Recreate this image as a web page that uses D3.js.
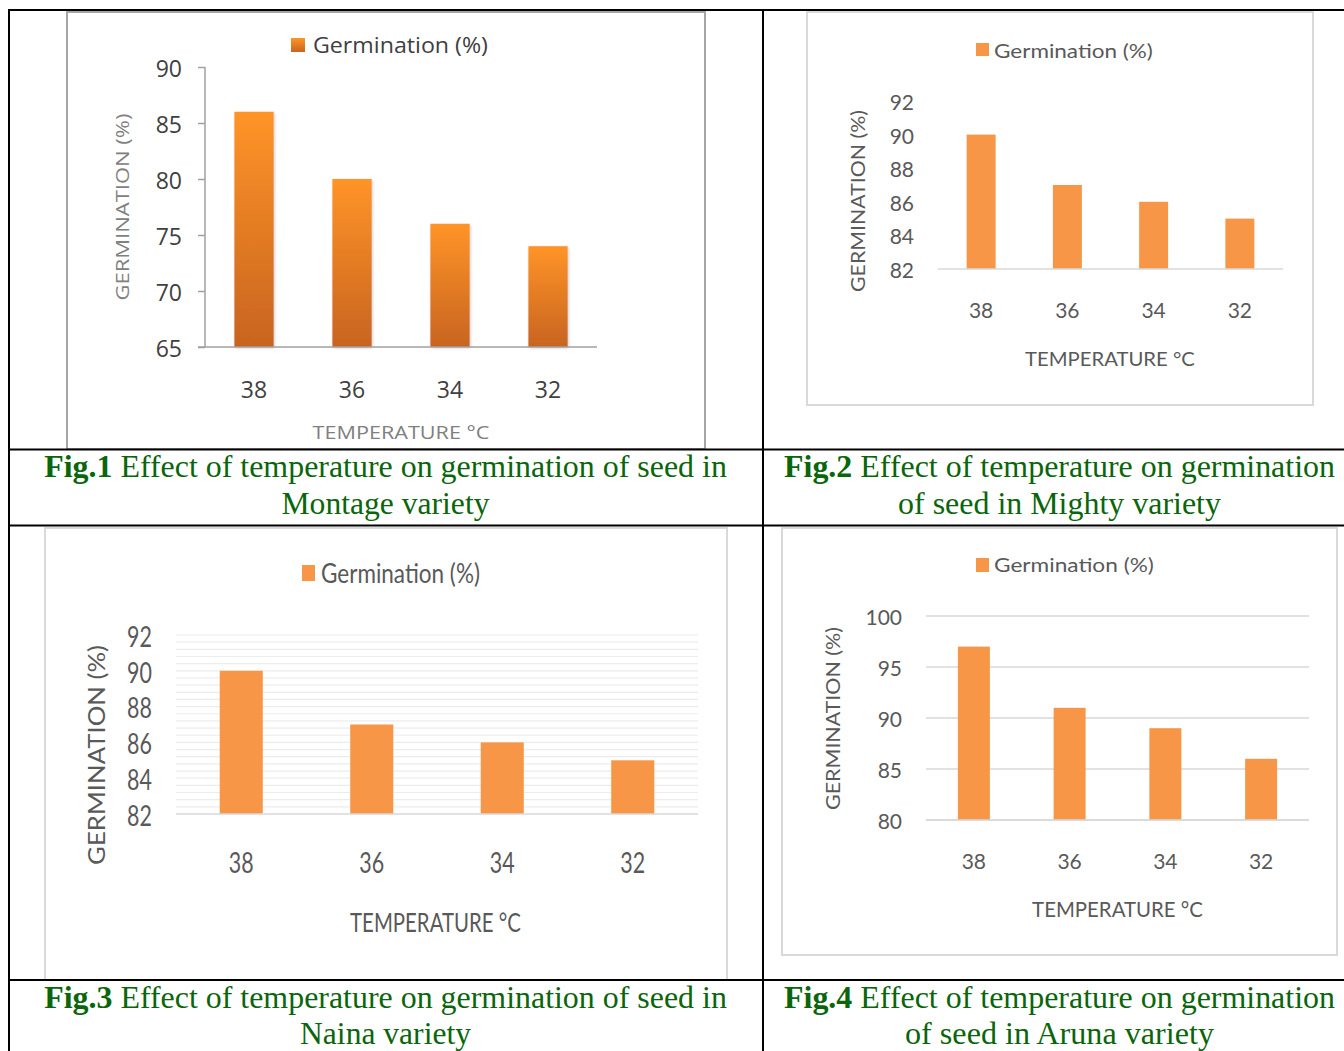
<!DOCTYPE html>
<html>
<head>
<meta charset="utf-8">
<script src="https://cdn.jsdelivr.net/npm/d3@7"></script>
<style>
  body { margin: 0; background: #fff; }
  svg { display: block; }
</style>
</head>
<body>
<svg id="fig" width="1344" height="1051"></svg>
<script>
// Temperature categories (°C) shared by all four figures
const temperatures = ["38", "36", "34", "32"];

// Germination (%) per variety
const montage = [86, 80, 76, 74];
const mighty  = [90, 87, 86, 85];
const naina   = [90, 87, 86, 85];
const aruna   = [97, 91, 89, 86];

// Y-axis tick labels per figure
const montageTicks = [65, 70, 75, 80, 85, 90];
const mightyTicks  = [82, 84, 86, 88, 90, 92];
const nainaTicks   = [82, 84, 86, 88, 90, 92];
const arunaTicks   = [80, 85, 90, 95, 100];
const nainaMinorStep = 0.4;

const seriesName = "Germination (%)";
const xTitleText = "TEMPERATURE °C";
const yTitleText = "GERMINATION (%)";

const figLabels = ["Fig.1", "Fig.2", "Fig.3", "Fig.4"];
const captionLine1 = [
  " Effect of temperature on germination of seed in",
  " Effect of temperature on germination",
  " Effect of temperature on germination of seed in",
  " Effect of temperature on germination"
];
const captionLine2 = [
  "Montage variety",
  "of seed in Mighty variety",
  "Naina variety",
  "of seed in Aruna variety"
];

const svg = d3.select("#fig");

// gradient + shadow used by the first figure's bars
const defs = svg.append("defs");
const grad = defs.append("linearGradient").attr("id", "barGrad")
  .attr("x1", 0).attr("y1", 0).attr("x2", 0).attr("y2", 1);
grad.append("stop").attr("offset", "0%").attr("stop-color", "#ff9428");
grad.append("stop").attr("offset", "100%").attr("stop-color", "#c8641f");
const shadow = defs.append("filter").attr("id", "barShadow")
  .attr("x", "-20%").attr("y", "-5%").attr("width", "140%").attr("height", "110%");
shadow.append("feDropShadow").attr("dx", 1).attr("dy", 1).attr("stdDeviation", 1.5)
  .attr("flood-color", "#888").attr("flood-opacity", 0.45);

// text that is squeezed / stretched horizontally to a given width
function fittedText(g, str, x, y, opts) {
  const t = g.append("text")
    .attr("font-family", opts.family)
    .attr("font-size", opts.size)
    .attr("font-weight", opts.weight || "normal")
    .attr("fill", opts.color)
    .attr("text-anchor", opts.anchor || "middle")
    .attr("dominant-baseline", opts.baseline || "central")
    .text(str);
  const w = t.node().getComputedTextLength();
  const k = opts.width ? opts.width / w : 1;
  t.attr("transform", `translate(${x},${y})${opts.rotate ? " rotate(-90)" : ""} scale(${k},1)`);
  return t;
}

function panel(cfg) {
  const g = svg.append("g");
  const P = cfg.plot;

  // chart area border
  g.append("rect")
    .attr("x", cfg.box[0]).attr("y", cfg.box[1])
    .attr("width", cfg.box[2] - cfg.box[0]).attr("height", cfg.box[3] - cfg.box[1])
    .attr("fill", "#fff").attr("stroke", cfg.boxStroke).attr("stroke-width", 2);

  const x = d3.scaleBand().domain(temperatures).range([P.left, P.right])
    .paddingInner(cfg.pad).paddingOuter(cfg.pad / 2);
  const y = d3.scaleLinear().domain(d3.extent(cfg.ticks)).range([P.bottom, P.top]);

  // gridlines
  if (cfg.minorStep) {
    const [lo, hi] = d3.extent(cfg.ticks);
    const n = Math.round((hi - lo) / cfg.minorStep);
    g.append("g").selectAll("line").data(d3.range(1, n + 1).map(i => lo + i * cfg.minorStep))
      .join("line")
      .attr("x1", P.left).attr("x2", P.right)
      .attr("y1", d => y(d)).attr("y2", d => y(d))
      .attr("stroke", "#ececec").attr("stroke-width", 1.2);
  }
  if (cfg.grid) {
    g.append("g").selectAll("line").data(cfg.ticks).join("line")
      .attr("x1", P.left).attr("x2", P.right)
      .attr("y1", d => y(d)).attr("y2", d => y(d))
      .attr("stroke", "#d9d9d9").attr("stroke-width", 1.5);
  }

  // bars
  g.append("g").selectAll("rect").data(cfg.values).join("rect")
    .attr("x", (d, i) => x(temperatures[i]))
    .attr("width", x.bandwidth())
    .attr("y", d => y(d))
    .attr("height", d => y(d3.min(cfg.ticks)) - y(d))
    .attr("fill", cfg.gradient ? "url(#barGrad)" : "#f79646")
    .attr("filter", cfg.gradient ? "url(#barShadow)" : null);

  // baseline
  g.append("line")
    .attr("x1", cfg.axisLine ? P.left - cfg.tickLen : P.left).attr("x2", P.right)
    .attr("y1", P.bottom).attr("y2", P.bottom)
    .attr("stroke", cfg.axisColor).attr("stroke-width", 1.5);

  // y axis
  const yAxis = d3.axisLeft(y).tickValues(cfg.ticks)
    .tickSize(cfg.axisLine ? cfg.tickLen : 0).tickPadding(0);
  const yg = g.append("g").attr("transform", `translate(${P.left},0)`).call(yAxis);
  if (cfg.axisLine) {
    yg.select(".domain").attr("stroke", cfg.axisColor).attr("stroke-width", 1.5)
      .attr("d", `M0,${P.top}V${P.bottom}`);
    yg.selectAll(".tick line").attr("stroke", cfg.axisColor).attr("stroke-width", 1.5);
  } else {
    yg.select(".domain").remove();
    yg.selectAll(".tick line").remove();
  }
  yg.selectAll(".tick text")
    .attr("x", null).attr("dy", null)
    .attr("dominant-baseline", "central")
    .attr("font-family", cfg.tickFamily).attr("font-size", cfg.tickSize)
    .attr("fill", cfg.tickColor)
    .attr("transform", `translate(${cfg.yLabelRight - P.left},0) scale(${cfg.tickScale},1)`);

  // x axis
  const xAxis = d3.axisBottom(x).tickSize(0).tickPadding(0);
  const xg = g.append("g").attr("transform", `translate(0,${P.bottom})`).call(xAxis);
  xg.select(".domain").remove();
  xg.selectAll(".tick text")
    .attr("y", null).attr("dy", null)
    .attr("dominant-baseline", "central")
    .attr("font-family", cfg.tickFamily).attr("font-size", cfg.tickSize)
    .attr("fill", cfg.tickColor)
    .attr("transform", `translate(0,${cfg.xLabelY - P.bottom}) scale(${cfg.tickScale},1)`);

  // axis titles
  fittedText(g, xTitleText, cfg.xTitle.cx, cfg.xTitle.cy,
    { family: cfg.titleFamily, size: cfg.xTitle.size, color: cfg.titleColor, width: cfg.xTitle.w });
  fittedText(g, yTitleText, cfg.yTitle.cx, cfg.yTitle.cy,
    { family: cfg.titleFamily, size: cfg.yTitle.size, color: cfg.titleColor, width: cfg.yTitle.w, rotate: true });

  // legend
  const L = cfg.legend;
  g.append("rect").attr("x", L.sx).attr("y", L.sy).attr("width", L.sw).attr("height", L.sh)
    .attr("fill", cfg.gradient ? "url(#barGrad)" : "#f79646");
  fittedText(g, seriesName, L.tx, L.ty,
    { family: cfg.titleFamily, size: L.size, color: L.color, width: L.w, anchor: "start" });
}

// Fig.1 – Montage
panel({
  values: montage, ticks: montageTicks,
  box: [67, 12, 705, 449], boxStroke: "#a6a6a6",
  plot: { left: 205, right: 597, top: 67, bottom: 347 },
  pad: 0.6, gradient: true, axisLine: true, tickLen: 7, axisColor: "#a0a0a0",
  yLabelRight: 182, xLabelY: 389,
  tickFamily: "Open Sans", tickSize: 23, tickScale: 1, tickColor: "#404040",
  titleFamily: "Open Sans", titleColor: "#808080",
  xTitle: { cx: 401, cy: 432, size: 19, w: 177 },
  yTitle: { cx: 122, cy: 207, size: 19, w: 187 },
  legend: { sx: 291, sy: 38, sw: 14, sh: 14, tx: 313, ty: 45, size: 22, w: 175, color: "#404040" }
});

// Fig.2 – Mighty
panel({
  values: mighty, ticks: mightyTicks,
  box: [807, 12, 1313, 405], boxStroke: "#d9d9d9",
  plot: { left: 938, right: 1283, top: 101, bottom: 269 },
  pad: 0.664, axisColor: "#d9d9d9",
  yLabelRight: 914, xLabelY: 309,
  tickFamily: "Lato", tickSize: 21, tickScale: 1, tickColor: "#595959",
  titleFamily: "Lato", titleColor: "#595959",
  xTitle: { cx: 1110, cy: 358, size: 20, w: 170 },
  yTitle: { cx: 857, cy: 201, size: 20, w: 182 },
  legend: { sx: 976, sy: 43, sw: 13, sh: 13, tx: 994, ty: 50, size: 20, w: 159, color: "#595959" }
});

// Fig.3 – Naina
panel({
  values: naina, ticks: nainaTicks, minorStep: nainaMinorStep,
  box: [45, 528, 727, 980], boxStroke: "#d9d9d9",
  plot: { left: 176, right: 698, top: 635, bottom: 814 },
  pad: 0.67, axisColor: "#d9d9d9",
  yLabelRight: 152, xLabelY: 862,
  tickFamily: "Lato", tickSize: 29, tickScale: 0.74, tickColor: "#595959",
  titleFamily: "Lato", titleColor: "#595959",
  xTitle: { cx: 435.5, cy: 922, size: 26, w: 171 },
  yTitle: { cx: 95, cy: 755, size: 24, w: 220 },
  legend: { sx: 302, sy: 565, sw: 13, sh: 16, tx: 321, ty: 573, size: 26, w: 159, color: "#595959" }
});

// Fig.4 – Aruna
panel({
  values: aruna, ticks: arunaTicks, grid: true,
  box: [782, 528, 1337, 955], boxStroke: "#d9d9d9",
  plot: { left: 926, right: 1309, top: 616, bottom: 820 },
  pad: 0.666, axisColor: "#d9d9d9",
  yLabelRight: 902, xLabelY: 860,
  tickFamily: "Lato", tickSize: 21, tickScale: 1, tickColor: "#595959",
  titleFamily: "Lato", titleColor: "#595959",
  xTitle: { cx: 1117.5, cy: 909, size: 21, w: 171 },
  yTitle: { cx: 832, cy: 718.5, size: 20, w: 183 },
  legend: { sx: 976, sy: 558, sw: 13, sh: 14, tx: 994, ty: 565, size: 20, w: 160, color: "#595959" }
});

// ---------- captions ----------
const capPos = [
  { cx: 385.5, b1: 477, b2: 514, w1: 683, w2: 208 },
  { cx: 1059.5, b1: 477, b2: 514, w1: 551, w2: 323 },
  { cx: 385.5, b1: 1008, b2: 1044, w1: 683, w2: 171 },
  { cx: 1059.5, b1: 1008, b2: 1044, w1: 551, w2: 309 }
];
const capColor = "#0a660a";
capPos.forEach((p, i) => {
  const t = svg.append("text")
    .attr("font-family", "Liberation Serif").attr("font-size", 31)
    .attr("fill", capColor).attr("text-anchor", "middle");
  t.append("tspan").attr("font-weight", "bold").text(figLabels[i]);
  t.append("tspan").text(captionLine1[i]);
  const k1 = p.w1 / t.node().getComputedTextLength();
  t.attr("transform", `translate(${p.cx},${p.b1}) scale(${k1},1)`);

  const t2 = svg.append("text")
    .attr("font-family", "Liberation Serif").attr("font-size", 31)
    .attr("fill", capColor).attr("text-anchor", "middle")
    .text(captionLine2[i]);
  const k2 = p.w2 / t2.node().getComputedTextLength();
  t2.attr("transform", `translate(${p.cx},${p.b2}) scale(${k2},1)`);
});

// ---------- table frame (drawn on top of the chart borders) ----------
const frame = svg.append("g").attr("stroke", "#000").attr("stroke-width", 2);
[[8, 10, 1344, 10], [8, 449.5, 1344, 449.5], [8, 525.5, 1344, 525.5], [8, 980, 1344, 980],
 [9, 10, 9, 1051], [763, 10, 763, 1051]].forEach(l => {
  frame.append("line").attr("x1", l[0]).attr("y1", l[1]).attr("x2", l[2]).attr("y2", l[3]);
});
</script>
</body>
</html>
